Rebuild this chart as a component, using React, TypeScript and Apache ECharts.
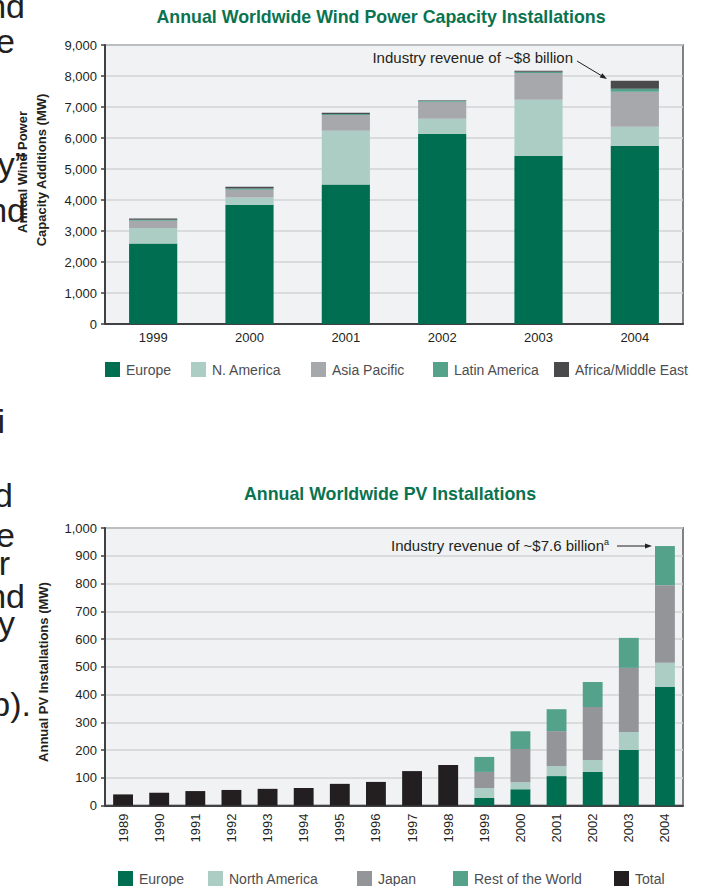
import React, { useEffect, useRef } from 'react';
import * as echarts from 'echarts';

// ---------- Wind data (MW) ----------
const windYears = ['1999', '2000', '2001', '2002', '2003', '2004'];
const windEurope = [2600, 3850, 4500, 6140, 5430, 5750];
const windNAmerica = [500, 230, 1735, 480, 1805, 615];
const windAsiaPacific = [230, 250, 505, 550, 860, 1130];
const windLatinAmerica = [35, 40, 35, 30, 45, 95];
const windAfricaME = [35, 60, 40, 15, 30, 260];
const windTicks = [0, 9000, 1000]; // min, max, interval

// ---------- PV data (MW) ----------
const pvYears = ['1989', '1990', '1991', '1992', '1993', '1994', '1995', '1996', '1997', '1998', '1999', '2000', '2001', '2002', '2003', '2004'];
const pvTotal = [40, 46, 52, 56, 60, 63, 78, 85, 124, 146, null, null, null, null, null, null];
const pvEurope = [null, null, null, null, null, null, null, null, null, null, 27, 59, 106, 121, 200, 427];
const pvNAmerica = [null, null, null, null, null, null, null, null, null, null, 36, 25, 36, 43, 65, 87];
const pvJapan = [null, null, null, null, null, null, null, null, null, null, 58, 120, 126, 191, 231, 280];
const pvRestOfWorld = [null, null, null, null, null, null, null, null, null, null, 54, 64, 79, 90, 108, 141];
const pvTicks = [0, 1000, 100];

const FONT = '"Liberation Sans", Arial, Helvetica, sans-serif';
const INK = '#231f20';
const GREEN = '#006f51';
const LIGHT = '#abcdc3';
const GREY = '#a7a8ab';
const JAPAN = '#939598';
const TEAL = '#55a28b';
const DARK = '#4a4a4c';
const BLACK = '#231f20';

const fmt = (v: number) => v.toLocaleString('en-US');

function bar(name: string, data: any[], color: string, idx: number, stack: string, width: string) {
  return {
    type: 'bar',
    name,
    data,
    stack,
    xAxisIndex: idx,
    yAxisIndex: idx,
    barWidth: width,
    itemStyle: { color },
    emphasis: { disabled: true },
  };
}

function legendItem(name: string, left: number, top: number) {
  return {
    data: [name],
    left,
    top,
    padding: 0,
    icon: 'rect',
    itemWidth: 15,
    itemHeight: 15,
    itemGap: 0,
    selectedMode: false,
    textStyle: { fontSize: 14, color: '#4d4d4f', fontFamily: FONT, padding: [0, 0, 0, 1] },
  };
}

function fragment(text: string, right: number, baseline: number) {
  return {
    type: 'text',
    x: right,
    y: baseline - 12,
    z: 0,
    style: { text, fill: INK, font: '34px ' + FONT, align: 'right', verticalAlign: 'middle' },
  };
}

export default function App() {
  const ref = useRef<HTMLDivElement>(null);
  useEffect(() => {
    if (!ref.current) return;
    const chart = echarts.init(ref.current, undefined, { renderer: 'svg' });
    const axisLine = { show: true, lineStyle: { color: '#414042', width: 2 } };
    const yLabel = { fontSize: 13, color: INK, fontFamily: FONT, margin: 8 };
    const split = { show: true, lineStyle: { color: '#d1d3d4', width: 1.5 } };
    const option: any = {
      animation: false,
      backgroundColor: '#ffffff',
      textStyle: { fontFamily: FONT },
      grid: [
        { left: 105, top: 45, width: 578, height: 279, show: true, backgroundColor: '#f1f2f3', borderColor: '#58595b', borderWidth: 1.5 },
        { left: 105, top: 528, width: 578, height: 277.5, show: true, backgroundColor: '#f1f2f3', borderColor: '#808285', borderWidth: 2 },
      ],
      xAxis: [
        { type: 'category', gridIndex: 0, data: windYears, axisLine, axisTick: { show: false }, axisLabel: { fontSize: 13, color: INK, fontFamily: FONT, margin: 7 } },
        { type: 'category', gridIndex: 1, data: pvYears, axisLine, axisTick: { show: false }, axisLabel: { fontSize: 13, color: INK, fontFamily: FONT, margin: 8, rotate: 90, interval: 0 } },
      ],
      yAxis: [
        { type: 'value', gridIndex: 0, min: windTicks[0], max: windTicks[1], interval: windTicks[2], axisLine, axisTick: { show: true, length: 4, lineStyle: { color: '#414042', width: 1.5 } }, axisLabel: { ...yLabel, formatter: fmt }, splitLine: split },
        { type: 'value', gridIndex: 1, min: pvTicks[0], max: pvTicks[1], interval: pvTicks[2], axisLine, axisTick: { show: true, length: 4, lineStyle: { color: '#414042', width: 1.5 } }, axisLabel: { ...yLabel, formatter: fmt }, splitLine: split },
      ],
      legend: [
        legendItem('Europe', 105, 362),
        legendItem('N. America', 191, 362),
        legendItem('Asia Pacific', 311, 362),
        legendItem('Latin America', 433, 362),
        legendItem('Africa/Middle East', 554, 362),
        legendItem('Europe ', 118, 871),
        legendItem('North America', 208, 871),
        legendItem('Japan', 357, 871),
        legendItem('Rest of the World', 453, 871),
        legendItem('Total', 614, 871),
      ],
      series: [
        bar('Europe', windEurope, GREEN, 0, 'wind', '50%'),
        bar('N. America', windNAmerica, LIGHT, 0, 'wind', '50%'),
        bar('Asia Pacific', windAsiaPacific, GREY, 0, 'wind', '50%'),
        bar('Latin America', windLatinAmerica, TEAL, 0, 'wind', '50%'),
        bar('Africa/Middle East', windAfricaME, DARK, 0, 'wind', '50%'),
        bar('Europe ', pvEurope, GREEN, 1, 'pv', '55%'),
        bar('North America', pvNAmerica, LIGHT, 1, 'pv', '55%'),
        bar('Japan', pvJapan, JAPAN, 1, 'pv', '55%'),
        bar('Rest of the World', pvRestOfWorld, TEAL, 1, 'pv', '55%'),
        bar('Total', pvTotal, BLACK, 1, 'pv', '55%'),
      ],
      graphic: [
        // page text fragments on the left
        fragment('nd', 25, 18),
        fragment('e', 15, 53),
        fragment('y\u201D', 26, 176),
        fragment('nd', 26, 222),
        fragment('i', 5, 433),
        fragment('d', 13, 507),
        fragment('e', 15, 547),
        fragment('r', 10, 575),
        fragment('nd', 25, 608),
        fragment('y', 15, 635),
        fragment('b).', 31, 716),
        // titles
        { type: 'text', x: 381, y: 17, z: 10, style: { text: 'Annual Worldwide Wind Power Capacity Installations', fill: '#0a7350', font: 'bold 17.8px ' + FONT, align: 'center', verticalAlign: 'middle' } },
        { type: 'text', x: 390, y: 494, z: 10, style: { text: 'Annual Worldwide PV Installations', fill: '#0a7350', font: 'bold 17.8px ' + FONT, align: 'center', verticalAlign: 'middle' } },
        // y-axis titles
        { type: 'text', x: 22, y: 172, rotation: Math.PI / 2, z: 10, style: { text: 'Annual Wind Power', fill: INK, font: 'bold 13px ' + FONT, align: 'center', verticalAlign: 'middle' } },
        { type: 'text', x: 41, y: 170, rotation: Math.PI / 2, z: 10, style: { text: 'Capacity Additions (MW)', fill: INK, font: 'bold 13px ' + FONT, align: 'center', verticalAlign: 'middle' } },
        { type: 'text', x: 43, y: 672, rotation: Math.PI / 2, z: 10, style: { text: 'Annual PV Installations (MW)', fill: INK, font: 'bold 13px ' + FONT, align: 'center', verticalAlign: 'middle' } },
        // wind annotation
        { type: 'text', x: 573, y: 57, z: 10, style: { text: 'Industry revenue of ~$8 billion', fill: INK, font: '15px ' + FONT, align: 'right', verticalAlign: 'middle' } },
        { type: 'line', z: 10, shape: { x1: 577, y1: 61, x2: 602, y2: 76 }, style: { stroke: INK, lineWidth: 1 } },
        { type: 'polygon', z: 10, shape: { points: [[607, 79], [599.7, 77.5], [602.3, 73.3]] }, style: { fill: INK } },
        // PV annotation
        { type: 'text', x: 391, y: 545, z: 10, style: { text: 'Industry revenue of ~$7.6 billion{sup|a}', fill: INK, font: '15px ' + FONT, align: 'left', verticalAlign: 'middle', rich: { sup: { fontSize: 9, fill: INK, verticalAlign: 'top', padding: [0, 0, 7, 0] } } } },
        { type: 'line', z: 10, shape: { x1: 617, y1: 546, x2: 646, y2: 546 }, style: { stroke: INK, lineWidth: 1 } },
        { type: 'polygon', z: 10, shape: { points: [[652, 546], [645, 543.5], [645, 548.5]] }, style: { fill: INK } },
      ],
    };
    chart.setOption(option);
    return () => chart.dispose();
  }, []);
  return <div ref={ref} style={{ position: 'fixed', left: 0, top: 0, width: 712, height: 886 }} />;
}
